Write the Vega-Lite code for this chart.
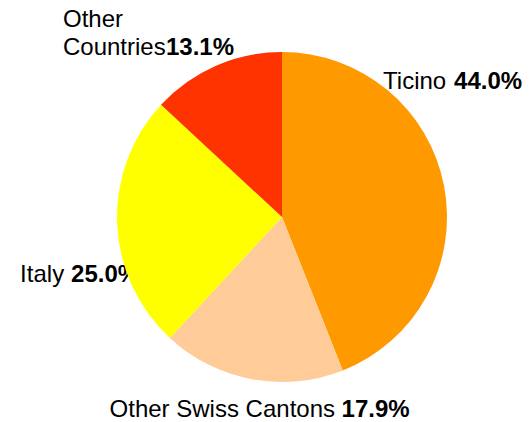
{
  "$schema": "https://vega.github.io/schema/vega-lite/v6.json",
  "width": 494,
  "height": 410,
  "autosize": "none",
  "padding": {"left": 35, "top": 12, "right": 0, "bottom": 0},
  "background": "white",
  "config": {
    "view": {"stroke": null},
    "text": {"font": "Liberation Sans", "fontSize": 24, "color": "black"}
  },
  "data": {
    "values": [
      {"region": "Ticino", "share": 0.440},
      {"region": "Other Swiss Cantons", "share": 0.179},
      {"region": "Italy", "share": 0.250},
      {"region": "Other Countries", "share": 0.131}
    ]
  },
  "transform": [{"window": [{"op": "row_number", "as": "slice"}]}],
  "encoding": {
    "theta": {"field": "share", "type": "quantitative", "stack": true},
    "order": {"field": "slice", "type": "quantitative"}
  },
  "layer": [
    {
      "mark": {"type": "text", "radius": 165, "align": "left", "baseline": "alphabetic", "dx": -61, "dy": -97},
      "encoding": {"text": {"condition": {"test": "datum.region === 'Ticino'", "field": "region", "type": "nominal"}, "value": ""}}
    },
    {
      "mark": {"type": "text", "radius": 165, "align": "left", "baseline": "alphabetic", "fontWeight": "bold", "dx": 10, "dy": -97},
      "encoding": {"text": {"condition": {"test": "datum.region === 'Ticino'", "field": "share", "type": "quantitative", "format": ".1%"}, "value": ""}}
    },
    {
      "mark": {"type": "text", "radius": 165, "align": "left", "baseline": "alphabetic", "dx": -142, "dy": 38},
      "encoding": {"text": {"condition": {"test": "datum.region === 'Other Swiss Cantons'", "field": "region", "type": "nominal"}, "value": ""}}
    },
    {
      "mark": {"type": "text", "radius": 165, "align": "left", "baseline": "alphabetic", "fontWeight": "bold", "dx": 90, "dy": 38},
      "encoding": {"text": {"condition": {"test": "datum.region === 'Other Swiss Cantons'", "field": "share", "type": "quantitative", "format": ".1%"}, "value": ""}}
    },
    {
      "mark": {"type": "text", "radius": 165, "align": "left", "baseline": "alphabetic", "dx": -97, "dy": 59},
      "encoding": {"text": {"condition": {"test": "datum.region === 'Italy'", "field": "region", "type": "nominal"}, "value": ""}}
    },
    {
      "mark": {"type": "text", "radius": 165, "align": "left", "baseline": "alphabetic", "fontWeight": "bold", "dx": -46, "dy": 59},
      "encoding": {"text": {"condition": {"test": "datum.region === 'Italy'", "field": "share", "type": "quantitative", "format": ".1%"}, "value": ""}}
    },
    {
      "mark": {"type": "text", "radius": 165, "align": "left", "baseline": "alphabetic", "lineBreak": " ", "lineHeight": 28, "dx": -153, "dy": -39},
      "encoding": {"text": {"condition": {"test": "datum.region === 'Other Countries'", "field": "region", "type": "nominal"}, "value": ""}}
    },
    {
      "mark": {"type": "text", "radius": 165, "align": "left", "baseline": "alphabetic", "fontWeight": "bold", "dx": -50, "dy": -11},
      "encoding": {"text": {"condition": {"test": "datum.region === 'Other Countries'", "field": "share", "type": "quantitative", "format": ".1%"}, "value": ""}}
    },
    {
      "mark": {"type": "arc", "outerRadius": 165},
      "encoding": {
        "color": {
          "field": "region",
          "type": "nominal",
          "scale": {
            "domain": ["Ticino", "Other Swiss Cantons", "Italy", "Other Countries"],
            "range": ["#FF9900", "#FFCC99", "#FFFF00", "#FF3300"]
          },
          "legend": null
        }
      }
    }
  ]
}
